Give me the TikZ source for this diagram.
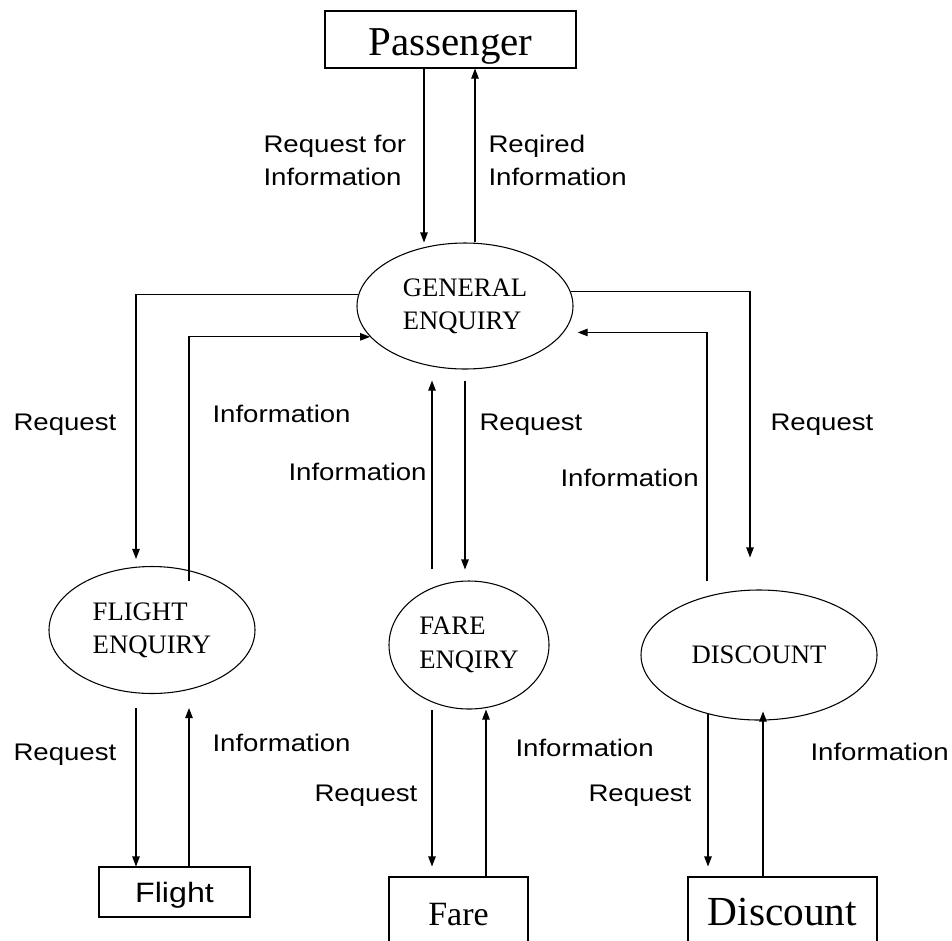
\documentclass[tikz,border=0pt]{standalone}
\usepackage{fontspec}
\setmainfont{Liberation Serif}
\newfontfamily\labfont[FakeStretch=1.15]{Liberation Sans}
\usetikzlibrary{arrows.meta,shapes.geometric,calc}

\begin{document}
\begin{tikzpicture}[x=0.75pt,y=-0.75pt,
  line width=0.8pt,
  arr/.style={-{Triangle[length=7.5pt,width=5.6pt]}},
  lab/.style={font=\labfont\fontsize{18}{21}\selectfont, inner sep=0pt, anchor=base west},
  proc/.style={draw, ellipse, inner sep=0pt, align=left, font=\fontsize{20}{25}\selectfont},
  ent/.style={draw, rectangle, inner xsep=0pt, inner ysep=0pt, anchor=base}
]
\path[use as bounding box] (0,0) rectangle (952,940);
\clip (0,0) rectangle (952,940);

% external entities
\node[ent, minimum width=188.25pt, text height=33pt, text depth=9.75pt,
      font=\fontsize{30.75}{36}\selectfont] (pass) at (450.5,55) {Passenger};
\node[ent, minimum width=113.25pt, text height=26.25pt, text depth=11.25pt,
      font=\labfont\fontsize{21}{25}\selectfont] (flb) at (174.5,902) {Flight};
\node[ent, minimum width=104.25pt, text height=36pt, text depth=30pt,
      font=\fontsize{25.5}{30}\selectfont] (fareb) at (458.5,925) {Fare};
\node[ent, minimum width=141.75pt, text height=36pt, text depth=30pt,
      font=\fontsize{31}{36}\selectfont] (discb) at (782.5,925) {Discount};

% processes
\node[proc, minimum width=162pt, minimum height=94.5pt] (gen) at (465,306) {GENERAL\\ENQUIRY};
\node[proc, minimum width=154.5pt, minimum height=95.25pt] (fl) at (152,630) {FLIGHT\\ENQUIRY};
\node[proc, minimum width=120pt, minimum height=96pt] (fare) at (469,645) {FARE\\ENQIRY};
\node[proc, minimum width=177pt, minimum height=97.5pt] (disc) at (759,655) {DISCOUNT};

% columns
\coordinate (cA) at (424,0);
\coordinate (cB) at (475,0);
\coordinate (cL) at (136,0);
\coordinate (cLi) at (189,0);
\coordinate (cF1) at (432,0);
\coordinate (cF2) at (465,0);
\coordinate (cF3) at (486,0);
\coordinate (cDi) at (707,0);
\coordinate (cR) at (750,0);
\coordinate (cD1) at (708,0);
\coordinate (cD2) at (763,0);

% passenger <-> general
\draw[arr] (pass.south -| cA) -- (gen.north -| cA);
\draw[arr] (gen.north -| cB) -- (pass.south -| cB);

% general <-> flight enquiry
\draw[arr] (gen.174) -| ([yshift=5.25pt]fl.north -| cL);
\draw[arr] ([yshift=-11.25pt]fl.north -| cLi) |- (gen.198);

% general <-> discount
\draw[arr] (gen.8) -| ([yshift=24pt]disc.north -| cR);
\draw[arr] ([yshift=6pt]disc.north -| cDi) |- ([xshift=10.5pt]gen.-15);

% general <-> fare enquiry
\draw[arr] ([yshift=8.25pt]fare.north -| cF1) -- ([yshift=-8.25pt]gen.south -| cF1);
\draw[arr] ([yshift=-8.25pt]gen.south -| cF2) -- ([yshift=8.25pt]fare.north -| cF2);

% flight enquiry <-> flight
\draw[arr] ([yshift=-10.5pt]fl.south -| cL) -- (flb.north -| cL);
\draw[arr] (flb.north -| cLi) -- ([yshift=-10.5pt]fl.south -| cLi);

% fare enquiry <-> fare
\draw[arr] (fare.south -| cF1) -- ([yshift=7.5pt]fareb.north -| cF1);
\draw[arr] (fareb.north -| cF3) -- (fare.south -| cF3);

% discount <-> discount store
\draw[arr] ([yshift=5.25pt]disc.south -| cD1) -- ([yshift=7.5pt]discb.north -| cD1);
\draw[arr] (discb.north -| cD2) -- ([yshift=6.75pt]disc.south -| cD2);

% labels
\node[lab] (l1a) at (263,152) {Request for};
\node[lab] (l1b) at (263,185) {Information};
\node[lab] (l2a) at (488,152) {Reqired};
\node[lab] (l2b) at (488,185) {Information};

\node[lab] (l3) at (13,430) {Request};
\node[lab] (l4) at (212,422) {Information};
\node[lab] (l5) at (288,480) {Information};
\node[lab] (l6) at (479,430) {Request};
\node[lab] (l7) at (560,486) {Information};
\node[lab] (l8) at (770,430) {Request};

\node[lab] (l9) at (13,760) {Request};
\node[lab] (l10) at (212,751) {Information};
\node[lab] (l11) at (314,801) {Request};
\node[lab] (l12) at (515,756) {Information};
\node[lab] (l13) at (588,801) {Request};
\node[lab] (l14) at (810,760) {Information};
\end{tikzpicture}
\end{document}
